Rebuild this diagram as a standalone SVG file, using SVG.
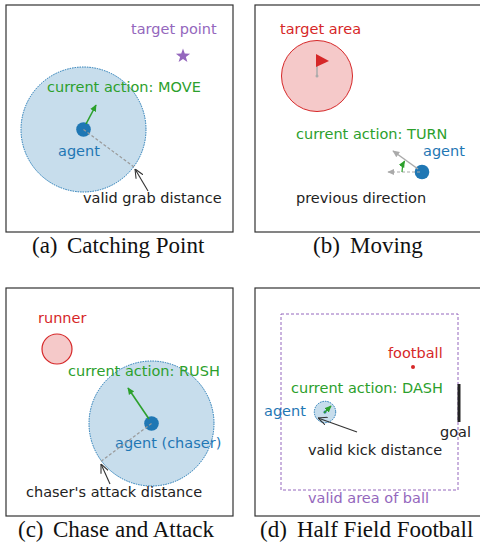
<svg xmlns="http://www.w3.org/2000/svg" width="480" height="544" viewBox="0 0 480 544">
<style>
.frame{fill:none;stroke:#333;stroke-width:1.2}
.lbl{font-family:"DejaVu Sans",sans-serif;font-size:14.5px}
.cap{font-family:"Liberation Serif","Times New Roman",serif;font-size:23px;fill:#111}
.blue{fill:#1f77b4}.green{fill:#2ca02c}.red{fill:#d62728}.purple{fill:#9467bd}.black{fill:#222}
.range{fill:#c7ddec;stroke:#1f77b4;stroke-width:1;stroke-dasharray:1.5 1}
.dot{fill:#1f77b4}
.garrow{stroke:#2ca02c;stroke-width:1.6;fill:none;marker-end:url(#gh)}
.greyd{stroke:#999;stroke-width:1.2;stroke-dasharray:3 2;fill:none}
.karrow{stroke:#333;stroke-width:1.1;fill:none;marker-end:url(#kh)}
</style>
<defs>
<marker id="gh" viewBox="0 0 10 10" refX="9" refY="5" markerWidth="7" markerHeight="7" markerUnits="userSpaceOnUse" orient="auto"><path d="M0,0.5 L10,5 L0,9.5 z" fill="#2ca02c"/></marker>
<marker id="grh" viewBox="0 0 10 10" refX="9" refY="5" markerWidth="7" markerHeight="7" markerUnits="userSpaceOnUse" orient="auto"><path d="M0,0.5 L10,5 L0,9.5 z" fill="#aaa"/></marker>
<marker id="kh" viewBox="0 0 10 10" refX="10" refY="5" markerWidth="9" markerHeight="9" markerUnits="userSpaceOnUse" orient="auto"><path d="M0,0.5 L10,5 L0,9.5" fill="none" stroke="#333" stroke-width="1.2"/></marker>
</defs>
<rect width="480" height="544" fill="#fff"/>

<!-- Panel (a) -->
<g id="panel-a">
<rect class="frame" x="6" y="5" width="227" height="227"/>
<g id="a-target"><text class="lbl purple" x="131" y="34">target point</text>
<polygon points="183,48.5 184.76,53.57 190.13,53.68 185.85,56.93 187.41,62.07 183,59 178.59,62.07 180.15,56.93 175.87,53.68 181.24,53.57" fill="#9467bd"/></g>
<g id="a-range"><circle class="range" cx="83.5" cy="129.5" r="62.5"/></g>
<g id="a-agent"><circle class="dot" cx="83.5" cy="129.5" r="7.3"/><text class="lbl blue" x="58" y="156">agent</text></g>
<text class="lbl green" x="47" y="92">current action: MOVE</text>
<text class="lbl black" x="83" y="203">valid grab distance</text>
<text class="cap" x="32" y="253">(a)</text><text class="cap" x="67" y="253">Catching Point</text>
</g>

<!-- Panel (b) -->
<g id="panel-b">
<rect class="frame" x="255" y="5" width="228" height="227"/>
<g id="b-target"><text class="lbl red" x="280" y="34">target area</text>
<circle cx="317" cy="76" r="35.5" fill="#f5c9c9" stroke="#d62728" stroke-width="1"/>
<line x1="317" y1="76" x2="317" y2="57" stroke="#aaa" stroke-width="1.5"/>
<circle cx="317" cy="76" r="1.5" fill="#aaa"/>
<polygon points="316,54 329,61 316,67" fill="#d62728"/></g>
<text class="lbl green" x="296" y="139">current action: TURN</text>
<g id="b-agent"><circle class="dot" cx="422" cy="172" r="7.3"/><text class="lbl blue" x="423" y="156">agent</text></g>
<text class="lbl black" x="296" y="203">previous direction</text>
<text class="cap" x="313" y="253">(b)</text><text class="cap" x="350" y="253">Moving</text>
</g>

<!-- Panel (c) -->
<g id="panel-c">
<rect class="frame" x="6" y="288" width="227" height="228"/>
<g id="c-runner"><text class="lbl red" x="38" y="323">runner</text>
<circle cx="57" cy="349" r="15" fill="#f5c9c9" stroke="#d62728" stroke-width="1.2"/></g>
<g id="c-range"><circle class="range" cx="151.5" cy="423.5" r="62.5"/></g>
<text class="lbl green" x="68" y="376">current action: RUSH</text>
<g id="c-agent"><circle class="dot" cx="151.5" cy="423.5" r="7.3"/><text class="lbl blue" x="115" y="448">agent (chaser)</text></g>
<text class="lbl black" x="26" y="497">chaser's attack distance</text>
<text class="cap" x="18" y="537">(c)</text><text class="cap" x="53" y="537">Chase and Attack</text>
</g>

<!-- Panel (d) -->
<g id="panel-d">
<rect class="frame" x="255" y="288" width="228" height="228"/>
<g id="d-area"><rect x="281" y="314" width="177" height="176" fill="none" stroke="#9467bd" stroke-width="1" stroke-dasharray="3 2"/>
<text class="lbl purple" x="308" y="503">valid area of ball</text></g>
<g id="d-ball"><text class="lbl red" x="388" y="358">football</text><circle cx="413" cy="367" r="2" fill="#d62728"/></g>
<text class="lbl green" x="291" y="393">current action: DASH</text>
<g id="d-goal"><line x1="459" y1="384" x2="459" y2="422" stroke="#222" stroke-width="3"/><text class="lbl black" x="440" y="437">goal</text></g>
<g id="d-agent"><circle cx="325" cy="412" r="10.7" fill="#c7ddec" stroke="#1f77b4" stroke-width="1" stroke-dasharray="1.5 1"/>
<circle cx="325" cy="412" r="1.5" fill="#1f77b4"/>
<text class="lbl blue" x="264" y="416">agent</text></g>
<text class="lbl black" x="308" y="455">valid kick distance</text>
<text class="cap" x="260" y="537">(d)</text><text class="cap" x="297" y="537">Half Field Football</text>
</g>

<!-- Connectors -->
<g id="connectors">
<path class="garrow" d="M86,124 L96,105"/>
<path class="greyd" d="M83.5,129.5 L134,167"/>
<path class="karrow" d="M148,191 L135,169"/>

<path d="M418,169 L393,151" stroke="#aaa" stroke-width="1.5" fill="none" marker-end="url(#grh)"/>
<path d="M420,172 L388,172" stroke="#aaa" stroke-width="1.2" stroke-dasharray="3 2" fill="none" marker-end="url(#grh)"/>
<path d="M402,172 A20,20 0 0 1 404.5,161" stroke="#2ca02c" stroke-width="1.2" fill="none" marker-end="url(#gh)"/>

<path class="garrow" d="M149,419 L128,388"/>
<path class="greyd" d="M151.5,423.5 L100,462"/>
<path class="karrow" d="M110,484 L101,464"/>

<path d="M324,413 L331,406" stroke="#2ca02c" stroke-width="1.4" fill="none" marker-end="url(#gh)"/>
<path class="karrow" d="M357,432 L318,418"/>
</g>
</svg>
